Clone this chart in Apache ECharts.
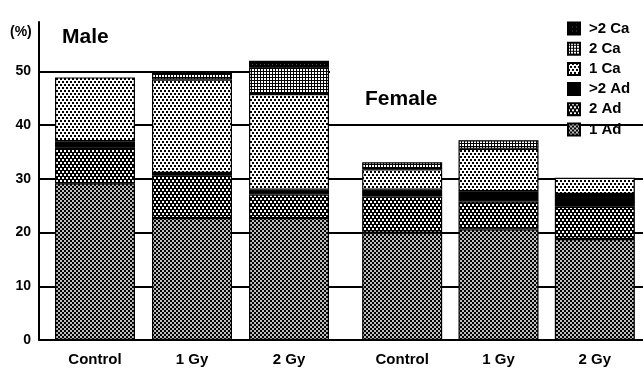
<!DOCTYPE html>
<html><head><meta charset="utf-8">
<script src="https://cdn.jsdelivr.net/npm/echarts@6/dist/echarts.min.js"></script>
<style>html,body{margin:0;padding:0;background:#fff}#c{width:643px;height:368px}</style>
</head><body><div id="c"></div>
<script>
const categories = ['Control', '1 Gy', '2 Gy'];
const seriesNames = ['1 Ad', '2 Ad', '>2 Ad', '1 Ca', '2 Ca', '>2 Ca'];
// segment heights (%), stacked from bottom
const male_1Ad   = [29.2, 22.7, 22.7];
const male_2Ad   = [6.6, 8.0, 4.4];
const male_gt2Ad = [1.2, 0.4, 0.9];
const male_1Ca   = [11.9, 17.4, 17.8];
const male_2Ca   = [0, 1.2, 4.9];
const male_gt2Ca = [0, 0, 1.3];
const female_1Ad   = [20.0, 20.6, 18.8];
const female_2Ad   = [6.7, 5.2, 6.0];
const female_gt2Ad = [1.3, 1.9, 2.4];
const female_1Ca   = [3.8, 7.9, 3.0];
const female_2Ca   = [1.3, 1.6, 0];
const female_gt2Ca = [0, 0, 0];
const panelTitles = ['Male', 'Female'];
const unitLabel = '(%)';

const FONT = '"Liberation Sans", Arial, Helvetica, sans-serif';

function tile(w, h, bg, fg, cells) {
  const c = document.createElement('canvas');
  c.width = w; c.height = h;
  const g = c.getContext('2d');
  g.fillStyle = bg; g.fillRect(0, 0, w, h);
  g.fillStyle = fg;
  cells.forEach(r => g.fillRect(r[0], r[1], r[2], r[3]));
  return { image: c, repeat: 'repeat' };
}
function dotTile(w, h, bg, fg, pts, rad) {
  const c = document.createElement('canvas');
  c.width = w; c.height = h;
  const g = c.getContext('2d');
  g.fillStyle = bg; g.fillRect(0, 0, w, h);
  g.fillStyle = fg;
  pts.forEach(p => { g.beginPath(); g.arc(p[0], p[1], rad, 0, Math.PI * 2); g.fill(); });
  return { image: c, repeat: 'repeat' };
}
const patterns = {
  '1 Ad': dotTile(4, 4, '#000', '#fff', [[1, 1], [3, 3], [-1, 3], [3, -1], [5, 1], [1, 5]], 1.0),
  '2 Ad': tile(4, 6, '#000', '#fff', [[0, 0, 2, 2], [2, 3, 2, 2]]),
  '>2 Ad': '#000',
  '1 Ca': tile(4, 6, '#fff', '#000', [[0, 0, 2, 2], [2, 3, 2, 2]]),
  '2 Ca': tile(3, 3, '#000', '#fff', [[0, 0, 2, 2]]),
  '>2 Ca': tile(4, 4, '#000', '#555', [[0, 0, 1, 1]])
};

const maleData = [male_1Ad, male_2Ad, male_gt2Ad, male_1Ca, male_2Ca, male_gt2Ca];
const femaleData = [female_1Ad, female_2Ad, female_gt2Ad, female_1Ca, female_2Ca, female_gt2Ca];

const Y0 = 340, PX = 5.37, TOP = 22, BOT = 368 - Y0;
const YMAX = (Y0 - TOP) / PX;

const series = [];
[maleData, femaleData].forEach((arrs, gi) => {
  arrs.forEach((vals, si) => {
    series.push({
      type: 'bar',
      name: seriesNames[si],
      stack: 'g' + gi,
      xAxisIndex: gi + 2,
      yAxisIndex: gi + 2,
      barWidth: 80,
      data: vals.map(v => (v > 0 ? v : null)),
      itemStyle: { color: patterns[seriesNames[si]], borderColor: '#000', borderWidth: 1.2 },
      emphasis: { disabled: true },
      animation: false
    });
  });
});

const chart = echarts.init(document.getElementById('c'), null, { renderer: 'canvas' });
const lineStyle = { color: '#000', width: 2 };
chart.setOption({
  animation: false,
  backgroundColor: '#fff',
  textStyle: { fontFamily: FONT },
  grid: [
    { left: 39, width: 330 - 39, top: TOP, bottom: BOT },
    { left: 330, right: 0, top: Y0 - 40 * PX, bottom: BOT },
    { left: 46.5, width: 291, top: TOP, bottom: BOT },
    { left: 354, width: 291, top: TOP, bottom: BOT }
  ],
  xAxis: [
    { gridIndex: 0, type: 'category', data: [''], axisLine: { lineStyle }, axisTick: { show: false }, axisLabel: { show: false } },
    { gridIndex: 1, type: 'category', data: [''], axisLine: { lineStyle }, axisTick: { show: false }, axisLabel: { show: false } },
    { gridIndex: 2, type: 'category', data: categories, axisLine: { show: false }, axisTick: { show: false },
      axisLabel: { margin: 12, color: '#000', fontSize: 15, fontWeight: 'bold', fontFamily: FONT } },
    { gridIndex: 3, type: 'category', data: categories, axisLine: { show: false }, axisTick: { show: false },
      axisLabel: { margin: 12, color: '#000', fontSize: 15, fontWeight: 'bold', fontFamily: FONT } }
  ],
  yAxis: [
    { gridIndex: 0, type: 'value', min: 0, max: YMAX, interval: 10,
      axisLine: { show: true, lineStyle }, axisTick: { show: false },
      axisLabel: { showMaxLabel: false, margin: 8, color: '#000', fontSize: 14, fontWeight: 'bold', fontFamily: FONT },
      splitLine: { show: true, showMinLine: false, showMaxLine: false, lineStyle } },
    { gridIndex: 1, type: 'value', min: 0, max: 40, interval: 10,
      axisLine: { show: false }, axisTick: { show: false }, axisLabel: { show: false },
      splitLine: { show: true, showMinLine: false, showMaxLine: true, lineStyle } },
    { gridIndex: 2, type: 'value', min: 0, max: YMAX, show: false, splitLine: { show: false } },
    { gridIndex: 3, type: 'value', min: 0, max: YMAX, show: false, splitLine: { show: false } }
  ],
  legend: {
    orient: 'vertical', left: 562, top: 16,
    data: seriesNames.slice().reverse().map(n => ({ name: n, icon: 'rect' })),
    itemWidth: 12, itemHeight: 12, itemGap: 5.2,
    selectedMode: false,
    textStyle: { color: '#000', fontSize: 15, fontWeight: 'bold', fontFamily: FONT, lineHeight: 12, padding: [0, 0, 0, 4] }
  },
  graphic: [
    { type: 'text', left: 10, top: 25, style: { text: unitLabel, font: 'bold 14px ' + FONT, fill: '#000' } },
    { type: 'text', left: 62, top: 27, style: { text: panelTitles[0], font: 'bold 21px ' + FONT, fill: '#000' } },
    { type: 'text', left: 365, top: 89, style: { text: panelTitles[1], font: 'bold 21px ' + FONT, fill: '#000' } }
  ],
  series
});
</script></body></html>
